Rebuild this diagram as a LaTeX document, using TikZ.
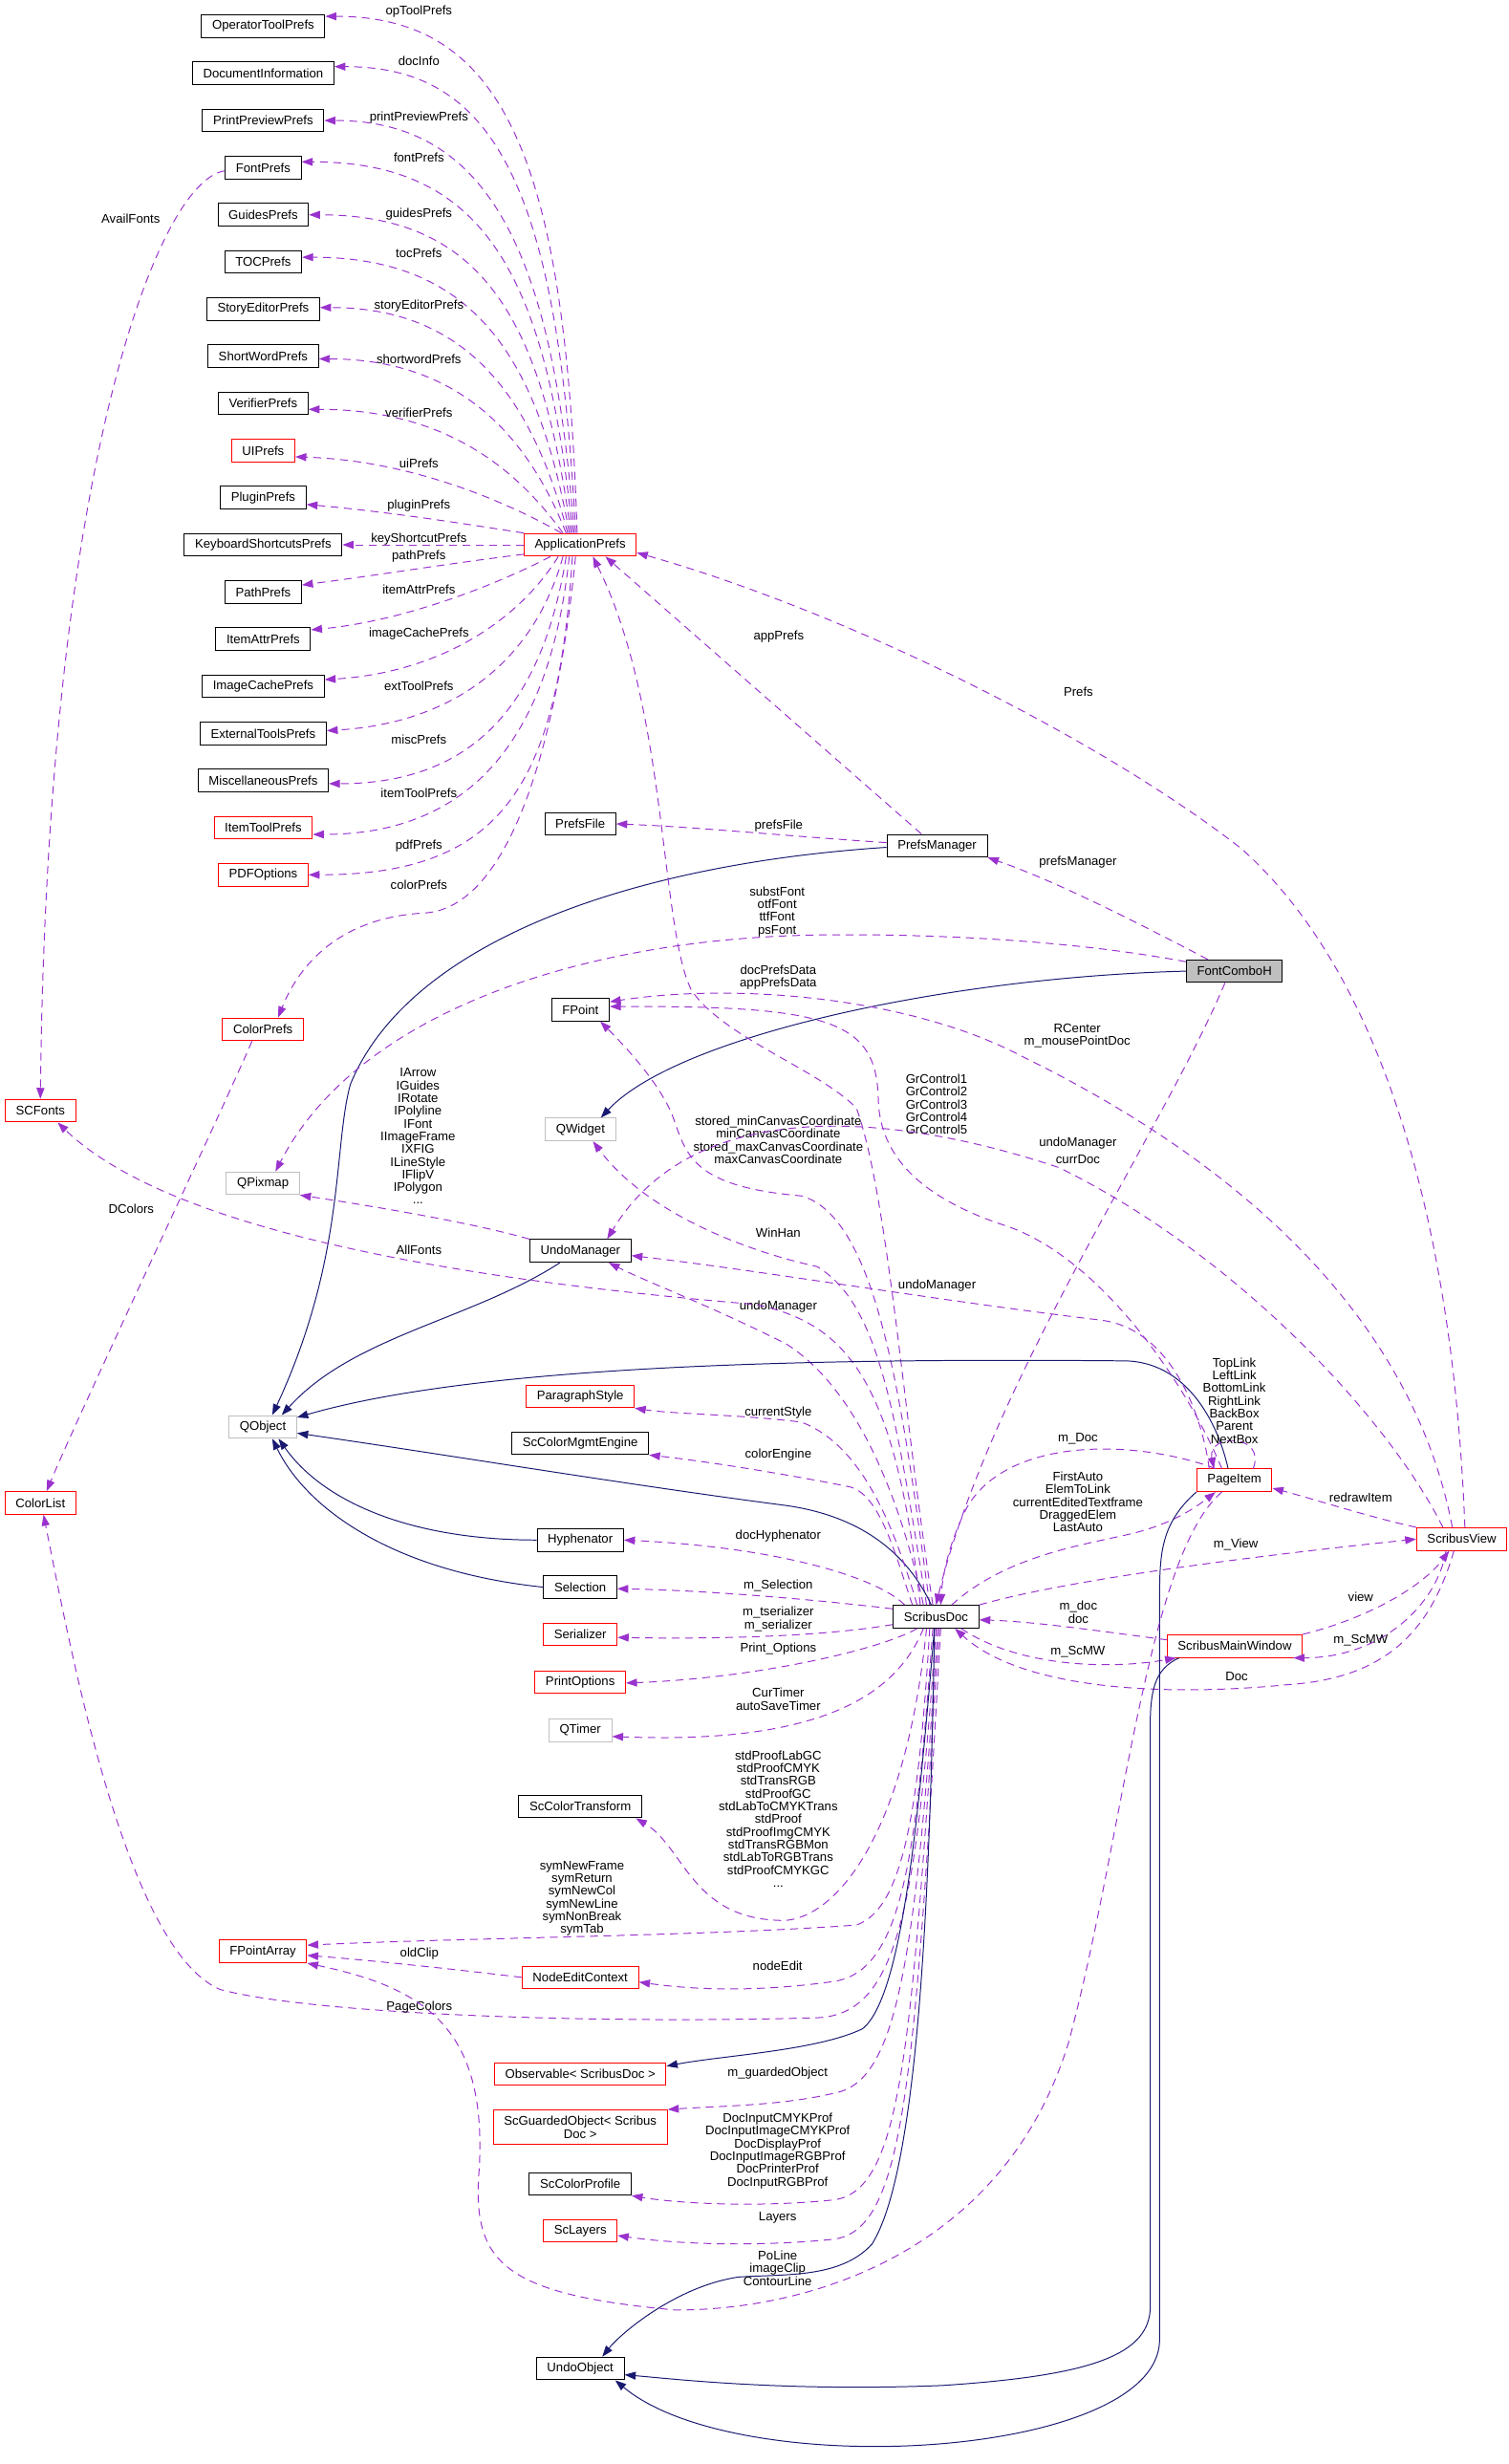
\documentclass[tikz,border=0pt]{standalone}
\usepackage{fontspec}
\setmainfont{Liberation Sans}
\usetikzlibrary{arrows.meta}
\definecolor{edgepurple}{HTML}{9A32CD}
\definecolor{edgenavy}{HTML}{191970}
\definecolor{boxgrey}{HTML}{BFBFBF}
\begin{document}
\begin{tikzpicture}[x=1pt, y=-1pt,
  every node/.style={font=\fontsize{8}{8.1}\selectfont},
  cls/.style={draw=black, fill=white, line width=0.6pt, minimum height=14.4pt, inner xsep=6.8pt, inner ysep=0pt, align=center},
  clsred/.style={cls, draw=red},
  clsgrey/.style={cls, draw=boxgrey},
  clsmain/.style={cls, fill=boxgrey},
  lbl/.style={inner sep=0pt, align=center},
  dep/.style={draw=edgepurple, line width=0.6pt, dash pattern=on 5pt off 3.5pt, -{Triangle[length=7pt,width=5pt]}},
  inh/.style={draw=edgenavy, line width=0.6pt, -{Triangle[length=7pt,width=5pt]}}]
  \useasboundingbox (0,0) rectangle (960,1568);

  % classes
  \node[clsred] (scfonts) at (25.7,706.8) {SCFonts};
  \node[clsred] (colorlist) at (25.7,956.4) {ColorList};
  \node[cls] (optool) at (167.5,16.7) {OperatorToolPrefs};
  \node[cls] (docinfo) at (167.5,46.7) {DocumentInformation};
  \node[cls] (prevprefs) at (167.5,76.7) {PrintPreviewPrefs};
  \node[cls] (fontprefs) at (167.5,106.7) {FontPrefs};
  \node[cls] (guideprefs) at (167.5,136.7) {GuidesPrefs};
  \node[cls] (tocprefs) at (167.5,166.7) {TOCPrefs};
  \node[cls] (storyprefs) at (167.5,196.7) {StoryEditorPrefs};
  \node[cls] (swprefs) at (167.5,226.7) {ShortWordPrefs};
  \node[cls] (verprefs) at (167.5,256.7) {VerifierPrefs};
  \node[clsred] (uiprefs) at (167.5,286.7) {UIPrefs};
  \node[cls] (plugprefs) at (167.5,316.7) {PluginPrefs};
  \node[cls] (keyprefs) at (167.5,346.7) {KeyboardShortcutsPrefs};
  \node[cls] (pathprefs) at (167.5,376.7) {PathPrefs};
  \node[cls] (attrprefs) at (167.5,406.7) {ItemAttrPrefs};
  \node[cls] (cacheprefs) at (167.5,436.7) {ImageCachePrefs};
  \node[cls] (extprefs) at (167.5,466.7) {ExternalToolsPrefs};
  \node[cls] (miscprefs) at (167.5,496.7) {MiscellaneousPrefs};
  \node[clsred] (toolprefs) at (167.5,526.7) {ItemToolPrefs};
  \node[clsred] (pdfopts) at (167.5,556.7) {PDFOptions};
  \node[clsred] (colorprefs) at (167.4,655) {ColorPrefs};
  \node[clsgrey] (qpixmap) at (167.3,753) {QPixmap};
  \node[clsgrey] (qobject) at (167.3,908) {QObject};
  \node[clsred] (fparray) at (167.3,1241.8) {FPointArray};
  \node[clsred] (appprefs) at (369.3,346.7) {ApplicationPrefs};
  \node[cls] (prefsfile) at (369.3,524.3) {PrefsFile};
  \node[cls] (fpoint) at (369.4,642.5) {FPoint};
  \node[clsgrey] (qwidget) at (369.4,718.8) {QWidget};
  \node[cls] (undomgr) at (369.4,796) {UndoManager};
  \node[clsred] (parstyle) at (369.3,888.6) {ParagraphStyle};
  \node[cls] (cmengine) at (369.3,918.4) {ScColorMgmtEngine};
  \node[cls] (hyph) at (369.3,980) {Hyphenator};
  \node[cls] (selection) at (369.3,1010) {Selection};
  \node[clsred] (serializer) at (369.3,1040) {Serializer};
  \node[clsred] (printopts) at (369.3,1070.4) {PrintOptions};
  \node[clsgrey] (qtimer) at (369.3,1101) {QTimer};
  \node[cls] (ctransform) at (369.3,1149.6) {ScColorTransform};
  \node[clsred] (nodeedit) at (369.3,1258.3) {NodeEditContext};
  \node[clsred] (observable) at (369.3,1319.8) {Observable< ScribusDoc >};
  \node[clsred, minimum height=22pt] (guarded) at (369.3,1353.7) {ScGuardedObject< Scribus\\Doc >};
  \node[cls] (cprofile) at (369.3,1389.7) {ScColorProfile};
  \node[clsred] (layers) at (369.3,1419.6) {ScLayers};
  \node[cls] (undoobj) at (369.3,1507.2) {UndoObject};
  \node[cls] (prefsmgr) at (596.4,538.2) {PrefsManager};
  \node[cls] (doc) at (595.7,1028.8) {ScribusDoc};
  \node[clsmain] (combo) at (785.6,618) {FontComboH};
  \node[clsred] (pageitem) at (785.6,942) {PageItem};
  \node[clsred] (mainwin) at (785.8,1047.5) {ScribusMainWindow};
  \node[clsred] (view) at (930.3,979.4) {ScribusView};

  % ApplicationPrefs members
  \draw[dep] ([xshift=-2pt]appprefs.north) .. controls (360,100) and (320,10.4) .. ([yshift=6.3pt]optool.east);
  \draw[dep] ([xshift=-3pt]appprefs.north) .. controls (355,110) and (310,42.4) .. ([yshift=4.3pt]docinfo.east);
  \draw[dep] ([xshift=-4pt]appprefs.north) .. controls (352,150) and (305,76.7) .. (prevprefs.east);
  \draw[dep] ([xshift=-5pt]appprefs.north) .. controls (348,170) and (305,103) .. ([yshift=3.7pt]fontprefs.east);
  \draw[dep] ([xshift=-6pt]appprefs.north) .. controls (345,200) and (305,136.7) .. (guideprefs.east);
  \draw[dep] ([xshift=-7pt]appprefs.north) .. controls (342,225) and (300,163.7) .. ([yshift=3pt]tocprefs.east);
  \draw[dep] ([xshift=-8pt]appprefs.north) .. controls (338,250) and (295,195.7) .. ([yshift=1pt]storyprefs.east);
  \draw[dep] ([xshift=-9pt]appprefs.north) .. controls (335,275) and (290,228.4) .. ([yshift=-1.7pt]swprefs.east);
  \draw[dep] ([xshift=-11pt]appprefs.north) .. controls (330,300) and (285,260.5) .. ([yshift=-3.8pt]verprefs.east);
  \draw[dep] ([xshift=-12pt]appprefs.north) .. controls (320,318) and (260,293) .. ([yshift=-4pt]uiprefs.east);
  \draw[dep] (appprefs.north west) .. controls (300,334) and (250,326) .. ([yshift=-4.3pt]plugprefs.east);
  \draw[dep] (appprefs.west) -- (keyprefs.east);
  \draw[dep] ([yshift=-6pt]appprefs.west) .. controls (290,358) and (240,366) .. ([yshift=4.4pt]pathprefs.east);
  \draw[dep] ([xshift=-19pt]appprefs.south) .. controls (320,370) and (260,395) .. ([yshift=5.9pt]attrprefs.east);
  \draw[dep] ([xshift=-14pt]appprefs.south) .. controls (330,395) and (280,428) .. ([yshift=4.2pt]cacheprefs.east);
  \draw[dep] ([xshift=-11pt]appprefs.south) .. controls (340,420) and (290,460) .. ([yshift=1.7pt]extprefs.east);
  \draw[dep] ([xshift=-9pt]appprefs.south) .. controls (345,450) and (300,498.7) .. ([yshift=-2pt]miscprefs.east);
  \draw[dep] ([xshift=-7pt]appprefs.south) .. controls (350,470) and (300,531) .. ([yshift=-4.3pt]toolprefs.east);
  \draw[dep] ([xshift=-5pt]appprefs.south) .. controls (355,500) and (320,556.7) .. (pdfopts.east);
  \draw[dep] ([xshift=-3pt]appprefs.south) .. controls (355,470) and (325,578) .. (270,581) .. controls (215,584) and (190,615) .. ([xshift=9.6pt]colorprefs.north);
  \node[lbl] (lop) at (266.6,7.6) {opToolPrefs};
  \node[lbl] (ldi) at (266.6,39) {docInfo};
  \node[lbl] (lpp) at (266.6,75) {printPreviewPrefs};
  \node[lbl] (lfp) at (266.6,100) {fontPrefs};
  \node[lbl] (lgp) at (266.6,136) {guidesPrefs};
  \node[lbl] (ltp) at (266.6,161) {tocPrefs};
  \node[lbl] (lsp) at (266.6,194.6) {storyEditorPrefs};
  \node[lbl] (lsw) at (266.6,228.7) {shortwordPrefs};
  \node[lbl] (lvp) at (266.6,262.7) {verifierPrefs};
  \node[lbl] (lui) at (266.6,295) {uiPrefs};
  \node[lbl] (lpl) at (266.6,322) {pluginPrefs};
  \node[lbl] (lks) at (266.6,343) {keyShortcutPrefs};
  \node[lbl] (lpa) at (266.6,354) {pathPrefs};
  \node[lbl] (lia) at (266.6,375.3) {itemAttrPrefs};
  \node[lbl] (lic) at (266.6,403.6) {imageCachePrefs};
  \node[lbl] (let) at (266.6,436.5) {extToolPrefs};
  \node[lbl] (lmi) at (266.6,470.5) {miscPrefs};
  \node[lbl] (lit) at (266.6,504.6) {itemToolPrefs};
  \node[lbl] (lpd) at (266.6,538.2) {pdfPrefs};
  \node[lbl] (lcp) at (266.6,563.2) {colorPrefs};

  \draw[dep] ([yshift=-2pt]fontprefs.west) .. controls (100,115) and (30,300) .. (scfonts.north);
  \node[lbl] (lav) at (83.2,139) {AvailFonts};
  \draw[dep] ([xshift=-7pt]colorprefs.south) .. controls (140,710) and (50,900) .. ([xshift=4pt]colorlist.north);
  \node[lbl] (ldc) at (83.5,769) {DColors};

  % PrefsManager and FontComboH
  \draw[dep] ([xshift=-10pt]prefsmgr.north) -- ([xshift=16pt]appprefs.south);
  \node[lbl] (lap) at (495.6,404.9) {appPrefs};
  \draw[dep] ([yshift=2pt]prefsmgr.west) .. controls (500,532) and (440,526) .. (prefsfile.east);
  \node[lbl] (lpf) at (495.6,525.3) {prefsFile};
  \draw[inh] ([yshift=-1pt]prefsmgr.west) .. controls (400,550) and (260,600) .. (223,690) .. controls (212,730) and (220,800) .. ([xshift=6pt]qobject.north);
  \draw[dep] ([xshift=-17pt]combo.north) .. controls (720,585) and (670,560) .. (prefsmgr.south east);
  \node[lbl] (lpm) at (686,548.9) {prefsManager};
  \draw[inh] (combo.west) .. controls (600,622) and (430,660) .. ([xshift=13pt]qwidget.north);
  \draw[dep] ([yshift=6pt]combo.west) .. controls (680,598) and (590,594) .. (520,595) .. controls (380,597) and (230,640) .. ([xshift=8pt]qpixmap.north);
  \node[lbl] (lsf) at (494.6,580.2) {substFont\\otfFont\\ttfFont\\psFont};
  \draw[dep] ([xshift=-6pt]combo.south) .. controls (740,720) and (630,880) .. (doc.north);
  \node[lbl] (lcd) at (686,738) {currDoc};

  % ScribusDoc members, upwards
  \draw[dep] ([xshift=-2pt]doc.north) .. controls (575,900) and (565,760) .. (545,705) .. controls (520,680) and (460,660) .. (440,630) .. controls (420,590) and (425,450) .. ([xshift=8pt]appprefs.south);
  \node[lbl] (ldp) at (495.3,621.8) {docPrefsData\\appPrefsData};
  \draw[dep] ([xshift=-4pt]doc.north) .. controls (575,900) and (560,775) .. (510,761) .. controls (440,755) and (437,735) .. (428,710) .. controls (420,690) and (400,668) .. ([xshift=-6pt]fpoint.south east);
  \node[lbl] (lcc) at (495.3,725.5) {stored\_minCanvasCoordinate\\minCanvasCoordinate\\stored\_maxCanvasCoordinate\\maxCanvasCoordinate};
  \draw[dep] ([xshift=-6pt]doc.north) .. controls (570,900) and (560,830) .. (520,806) .. controls (470,795) and (410,770) .. ([xshift=8pt]qwidget.south);
  \node[lbl] (lwh) at (495.3,784.3) {WinHan};
  \draw[dep] ([xshift=-8pt]doc.north) .. controls (570,940) and (540,880) .. (500,855) .. controls (450,830) and (410,815) .. ([xshift=18pt]undomgr.south);
  \node[lbl] (lum) at (495.3,831.6) {undoManager};
  \draw[dep] ([xshift=-10pt]doc.north) .. controls (570,880) and (540,842) .. (480,830) .. controls (300,815) and (110,785) .. ([xshift=11pt]scfonts.south);
  \node[lbl] (laf) at (266.6,795.4) {AllFonts};
  \draw[inh] ([xshift=-3pt]doc.north) .. controls (578,990) and (550,965) .. (500,958) .. controls (400,945) and (280,925) .. ([yshift=-4pt]qobject.east);

  % ScribusDoc members, to the left
  \draw[dep] ([xshift=-12pt]doc.north) .. controls (570,975) and (550,920) .. (510,905) .. controls (470,900) and (430,900) .. (parstyle.south east);
  \node[lbl] (lcs) at (495.3,899) {currentStyle};
  \draw[dep] ([xshift=-15pt]doc.north) .. controls (570,990) and (560,950) .. (540,946) .. controls (500,938) and (450,930) .. (cmengine.south east);
  \node[lbl] (lce) at (495.3,925.6) {colorEngine};
  \draw[dep] ([xshift=-20pt]doc.north) .. controls (560,1005) and (500,985) .. (hyph.east);
  \node[lbl] (ldh) at (495.3,977.7) {docHyphenator};
  \draw[dep] ([yshift=5pt]doc.west) .. controls (520,1018) and (450,1012) .. ([yshift=-1pt]selection.east);
  \node[lbl] (lms) at (495.3,1009.3) {m\_Selection};
  \draw[dep] ([yshift=-5pt]doc.west) .. controls (520,1042) and (450,1043) .. ([yshift=-2pt]serializer.east);
  \node[lbl] (lser) at (495.3,1030.3) {m\_tserializer\\m\_serializer};
  \draw[dep] ([xshift=-12pt]doc.south) .. controls (560,1050) and (480,1068) .. ([yshift=-0.6pt]printopts.east);
  \node[lbl] (lpo) at (495.3,1049.5) {Print\_Options};
  \draw[dep] ([xshift=-8pt]doc.south) .. controls (570,1080) and (520,1110) .. ([yshift=-4pt]qtimer.east);
  \node[lbl] (lct) at (495.3,1081.3) {CurTimer\\autoSaveTimer};
  \draw[dep] ([xshift=-6pt]doc.south) .. controls (575,1180) and (525,1225) .. (495,1222) .. controls (440,1220) and (435,1175) .. ([xshift=-4pt]ctransform.south east);
  \node[lbl] (lstd) at (495.3,1157.5) {stdProofLabGC\\stdProofCMYK\\stdTransRGB\\stdProofGC\\stdLabToCMYKTrans\\stdProof\\stdProofImgCMYK\\stdTransRGBMon\\stdLabToRGBTrans\\stdProofCMYKGC\\...};
  \draw[dep] ([xshift=-4pt]doc.south) .. controls (585,1150) and (575,1215) .. (545,1225) .. controls (450,1232) and (300,1233) .. ([yshift=4pt]fparray.east);
  \node[lbl] (lsym) at (370.4,1208.1) {symNewFrame\\symReturn\\symNewCol\\symNewLine\\symNonBreak\\symTab};
  \draw[dep] ([xshift=-2pt]doc.south) .. controls (583,1180) and (575,1255) .. (530,1261) .. controls (480,1268) and (440,1266) .. ([yshift=-3pt]nodeedit.east);
  \node[lbl] (lne) at (494.9,1251) {nodeEdit};
  \draw[dep] (doc.south) .. controls (583,1220) and (570,1282) .. (520,1284) .. controls (380,1288) and (200,1282) .. (140,1266) .. controls (80,1240) and (45,1050) .. ([xshift=2pt]colorlist.south);
  \node[lbl] (lpc) at (266.9,1277.2) {PageColors};
  \draw[inh] ([xshift=-1pt]doc.south) .. controls (585,1150) and (575,1270) .. (549,1291) .. controls (520,1305) and (460,1308) .. ([yshift=5pt]observable.east);
  \draw[dep] ([xshift=1pt]doc.south) .. controls (583,1250) and (570,1320) .. (535,1331) .. controls (500,1340) and (460,1340) .. (guarded.north east);
  \node[lbl] (lgo) at (494.9,1319.2) {m\_guardedObject};
  \draw[dep] ([xshift=2pt]doc.south) .. controls (580,1300) and (575,1395) .. (530,1400) .. controls (480,1405) and (430,1402) .. (cprofile.south east);
  \node[lbl] (ldip) at (494.9,1368.8) {DocInputCMYKProf\\DocInputImageCMYKProf\\DocDisplayProf\\DocInputImageRGBProf\\DocPrinterProf\\DocInputRGBProf};
  \draw[dep] ([xshift=3pt]doc.south) .. controls (582,1330) and (575,1420) .. (530,1425) .. controls (480,1430) and (430,1428) .. ([yshift=-3pt]layers.east);
  \node[lbl] (lla) at (494.9,1411.3) {Layers};
  \draw[inh] ([xshift=-1pt]doc.south) .. controls (592,1200) and (585,1380) .. (555,1428) .. controls (535,1450) and (500,1447) .. (470,1449) .. controls (430,1455) and (395,1485) .. ([xshift=14pt]undoobj.north);

  % ScribusDoc members, to the right
  \draw[dep] ([xshift=10pt]doc.north) .. controls (640,990) and (690,983) .. (720,976) .. controls (745,970) and (760,960) .. ([xshift=-12pt]pageitem.south);
  \node[lbl] (lfa) at (686,955.8) {FirstAuto\\ElemToLink\\currentEditedTextframe\\DraggedElem\\LastAuto};
  \draw[dep] (doc.north east) .. controls (680,1005) and (800,990) .. (view.west);
  \node[lbl] (lmv) at (786.5,983) {m\_View};
  \draw[dep] ([xshift=16pt]doc.south) .. controls (650,1062) and (710,1062) .. ([xshift=6pt]mainwin.south west);
  \node[lbl] (lsm) at (686,1051) {m\_ScMW};

  % PageItem
  \draw[inh] ([xshift=-4pt]pageitem.north) .. controls (775,905) and (755,866) .. (715,866) .. controls (500,864) and (300,870) .. ([yshift=6pt]qobject.east);
  \draw[inh] (pageitem.south west) .. controls (738,970) and (738,990) .. (738,1020) -- (738,1490) .. controls (735,1565) and (470,1580) .. ([xshift=-6pt]undoobj.south east);
  \draw[dep] ([xshift=-12pt]pageitem.north) .. controls (720,915) and (640,915) .. (615,960) .. controls (605,980) and (600,1000) .. ([xshift=3pt]doc.north);
  \node[lbl] (lmd) at (686,915.3) {m\_Doc};
  \draw[dep] ([xshift=-16pt]pageitem.north) .. controls (765,900) and (745,845) .. (700,840) .. controls (600,828) and (480,808) .. ([yshift=-3pt]undomgr.east);
  \node[lbl] (lpu) at (596.4,818.2) {undoManager};
  \draw[dep] ([xshift=-8pt]pageitem.north) .. controls (755,880) and (700,800) .. (640,780) .. controls (585,762) and (560,735) .. (559,700) .. controls (558,650) and (530,640) .. ([yshift=2pt]fpoint.east);
  \node[lbl] (lgc) at (596,702.8) {GrControl1\\GrControl2\\GrControl3\\GrControl4\\GrControl5};
  \draw[dep] ([xshift=-8pt]pageitem.south) .. controls (730,990) and (715,1170) .. (680,1300) .. controls (640,1430) and (520,1470) .. (430,1470) .. controls (320,1460) and (300,1440) .. (305,1380) .. controls (310,1290) and (270,1265) .. (fparray.south east);
  \node[lbl] (lpl2) at (494.9,1443.3) {PoLine\\imageClip\\ContourLine};
  \draw[dep] ([xshift=12pt]pageitem.north) .. controls (806,912) and (768,912) .. ([xshift=-13pt]pageitem.north);
  \node[lbl] (llk) at (785.6,891.4) {TopLink\\LeftLink\\BottomLink\\RightLink\\BackBox\\Parent\\NextBox};

  % ScribusView
  \draw[dep] ([xshift=2pt]view.north) .. controls (925,780) and (880,620) .. (790,540) .. controls (700,470) and (540,390) .. ([yshift=-5pt]appprefs.east);
  \node[lbl] (lpr) at (686.3,440) {Prefs};
  \draw[dep] ([xshift=-6pt]view.north) .. controls (905,870) and (830,760) .. (650,672) .. controls (580,635) and (470,625) .. ([yshift=5pt]fpoint.east);
  \node[lbl] (lrc) at (685.6,659) {RCenter\\m\_mousePointDoc};
  \draw[dep] ([xshift=-12pt]view.north) .. controls (885,905) and (790,800) .. (674,743) .. controls (560,705) and (440,700) .. ([xshift=17pt]undomgr.north);
  \node[lbl] (lvu) at (686,727.3) {undoManager};
  \draw[dep] (view.north west) .. controls (870,965) and (840,955) .. ([yshift=-5pt]pageitem.east);
  \node[lbl] (lri) at (866,952.7) {redrawItem};
  \draw[dep] ([xshift=-5pt]view.south) .. controls (910,1040) and (880,1068) .. (820,1072) .. controls (740,1080) and (650,1075) .. ([xshift=12pt]doc.south);
  \node[lbl] (ldoc) at (787,1066.8) {Doc};
  \draw[dep] ([xshift=-10pt]view.south) .. controls (915,1020) and (880,1055) .. ([xshift=-6pt]mainwin.south east);
  \node[lbl] (lvm) at (866,1043.6) {m\_ScMW};

  % ScribusMainWindow
  \draw[dep] ([yshift=4pt]mainwin.west) .. controls (700,1038) and (660,1032) .. ([yshift=-2pt]doc.east);
  \node[lbl] (lmdoc) at (686.3,1025.9) {m\_doc\\doc};
  \draw[dep] (mainwin.north east) .. controls (870,1030) and (905,1010) .. ([xshift=-8pt]view.south);
  \node[lbl] (lvw) at (866,1016) {view};
  \draw[inh] ([xshift=8pt]mainwin.south west) .. controls (735,1062) and (732,1075) .. (732,1100) -- (732,1470) .. controls (730,1500) and (690,1512) .. (600,1518) .. controls (500,1522) and (430,1514) .. ([yshift=-4pt]undoobj.east);

  % remaining
  \draw[dep] (nodeedit.west) .. controls (280,1252) and (230,1247) .. ([yshift=-2.5pt]fparray.east);
  \node[lbl] (loc) at (266.9,1243.1) {oldClip};
  \draw[dep] (undomgr.north west) .. controls (300,778) and (240,768) .. (qpixmap.south east);
  \node[lbl] (lic2) at (266,723.1) {IArrow\\IGuides\\IRotate\\IPolyline\\IFont\\IImageFrame\\IXFIG\\ILineStyle\\IFlipV\\IPolygon\\...};
  \draw[inh] ([xshift=-13pt]undomgr.south) .. controls (300,840) and (225,850) .. ([xshift=12pt]qobject.north);
  \draw[inh] (hyph.west) .. controls (260,980) and (205,955) .. ([xshift=10pt]qobject.south);
  \draw[inh] (selection.west) .. controls (250,1000) and (195,960) .. ([xshift=6pt]qobject.south);
\end{tikzpicture}
\end{document}
